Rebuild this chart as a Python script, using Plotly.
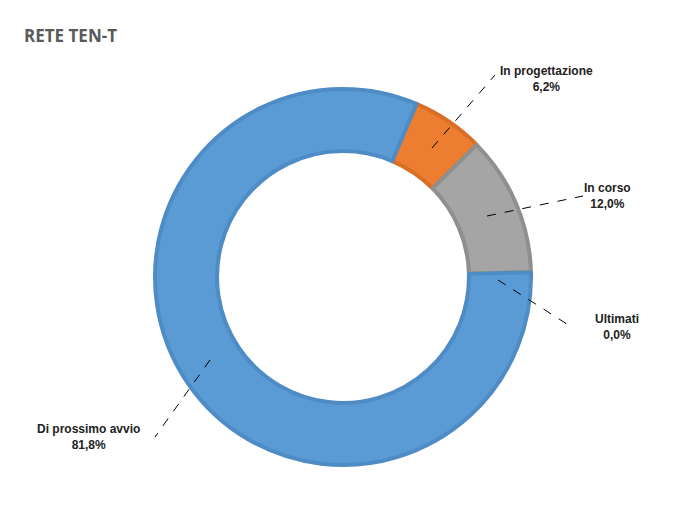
import plotly.graph_objects as go

labels = ["In progettazione", "In corso", "Ultimati", "Di prossimo avvio"]
values = [6.2, 12.0, 0.0, 81.8]
pct_text = ["6,2%", "12,0%", "0,0%", "81,8%"]
colors = ["#ED7D31", "#A5A5A5", "#FFC000", "#5B9BD5"]
borders = ["#D96F25", "#8F8F8F", "#E0A800", "#4F8CC6"]

W, H = 683, 508
OFF = 8  # page body offset compensation
def px(x, y):
    return (x - OFF) / W, 1 - (y - OFF) / H

dx0, dy0 = px(155, 465)
dx1, dy1 = px(531, 89)
fig = go.Figure(go.Pie(
    labels=labels, values=values, hole=0.67, sort=False, direction="clockwise",
    rotation=23, textinfo="none", hoverinfo="label+percent",
    marker=dict(colors=colors, line=dict(color=borders, width=4)),
    domain=dict(x=[dx0, dx1], y=[dy0, dy1]),
    showlegend=False,
))

lines = [((432, 148), (495, 75)), ((487, 216), (583, 196)),
         ((498, 280), (570, 326)), ((210, 360), (155, 437))]
label_pos = [(546, 79), (607, 196), (617, 327), (88, 437)]

shapes = []
annotations = []
for (a, b), (lx, ly), lab, pt in zip(lines, label_pos, labels, pct_text):
    x0, y0 = px(*a); x1, y1 = px(*b)
    shapes.append(dict(type="line", xref="paper", yref="paper", x0=x0, y0=y0, x1=x1, y1=y1,
                       line=dict(color="black", width=1, dash="dash")))
    X, Y = px(lx, ly)
    annotations.append(dict(x=X, y=Y, xref="paper", yref="paper", showarrow=False,
                            xanchor="center", yanchor="middle",
                            text=f"<b>{lab}</b><br><b>{pt}</b>", align="center",
                            font=dict(family="Liberation Sans, Arial", size=12, color="#222222")))

tx, ty = px(22, 35)
annotations.append(dict(x=tx, y=ty, xref="paper", yref="paper", showarrow=False,
                        xanchor="left", yanchor="middle", text="<b>RETE TEN-T</b>",
                        font=dict(family="Open Sans, Liberation Sans", size=17, color="#595959")))

fig.update_layout(width=W, height=H, margin=dict(l=0, r=0, t=0, b=0),
                  paper_bgcolor="white", plot_bgcolor="white",
                  shapes=shapes, annotations=annotations)
fig.write_html("out.html")
